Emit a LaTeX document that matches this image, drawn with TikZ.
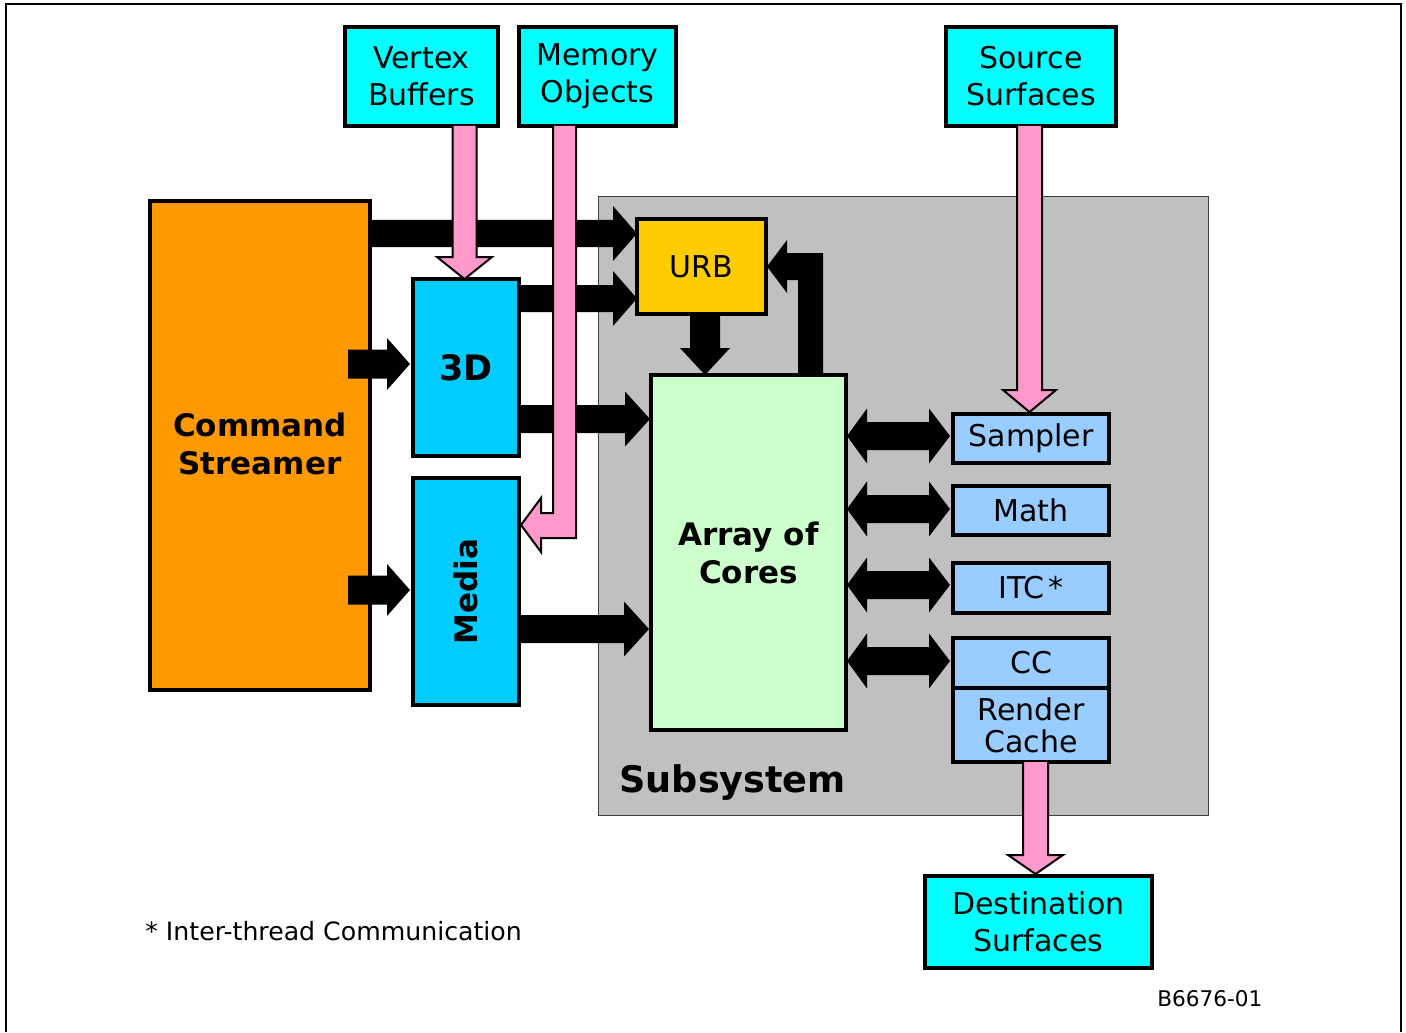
\documentclass[tikz,border=0pt]{standalone}
\usepackage{fontspec}
\setmainfont{DejaVu Sans}
\definecolor{cyanbox}{HTML}{00FFFF}
\definecolor{orangebox}{HTML}{FF9900}
\definecolor{bluebox}{HTML}{00CCFF}
\definecolor{urbbox}{HTML}{FFCC00}
\definecolor{greenbox}{HTML}{CCFFCC}
\definecolor{unitbox}{HTML}{99CCFF}
\definecolor{pinkarrow}{HTML}{FF99CC}
\definecolor{subgray}{HTML}{C0C0C0}
% horizontal block arrow to the right: x1, tip x, y, shaft half, head base x, head half
\newcommand\BArrowR[6]{%
  \fill (#1,#3-#4) -- (#5,#3-#4) -- (#5,#3-#6) -- (#2,#3) -- (#5,#3+#6) -- (#5,#3+#4) -- (#1,#3+#4) -- cycle;}
% double block arrow: left tip, right tip, y
\newcommand\BArrowLR[3]{%
  \fill (#1,#3) -- (#1+20,#3-27.5) -- (#1+20,#3-14) -- (#2-21,#3-14) -- (#2-21,#3-27.5) -- (#2,#3)
     -- (#2-21,#3+27.5) -- (#2-21,#3+14) -- (#1+20,#3+14) -- (#1+20,#3+27.5) -- cycle;}
\begin{document}
\begin{tikzpicture}[x=0.5pt,y=-0.5pt,
  box/.style={draw, line width=1.6pt, inner sep=0pt, align=center, font=\fontsize{15}{18.5}\selectfont},
  boldtext/.style={font=\bfseries\fontsize{15.5}{19}\selectfont},
  pinkarr/.style={fill=pinkarrow, draw=black, line width=1pt, line join=miter},
]
\useasboundingbox (0,0) rectangle (1406,1032);
\fill[white] (0,0) rectangle (1406,1032);
\draw[line width=1.1pt] (6,1032) -- (6,4) -- (1401,4) -- (1401,1032);

% subsystem background
\node[draw=black!75, line width=0.5pt, fill=subgray, minimum width=305pt, minimum height=309pt, inner sep=0pt] (sub) at (903,506) {};
\node[anchor=base west, font=\bfseries\fontsize{18.3}{21}\selectfont, inner sep=0pt] (subl) at (619,792) {Subsystem};

% top boxes
\node[box, fill=cyanbox, minimum width=76.5pt, minimum height=49.5pt] (vb) at (421.5,76.5) {Vertex\\Buffers};
\node[box, fill=cyanbox, minimum width=78.5pt, minimum height=49.5pt] (mo) at (597.5,76.5) {Memory\\Objects};
\node[box, fill=cyanbox, minimum width=85pt, minimum height=49.5pt] (ss) at (1031,76.5) {Source\\Surfaces};

% command streamer, 3D, media
\node[box, fill=orangebox, minimum width=110pt, minimum height=244.5pt] (cs) at (260,445.5) {};
\node[boldtext, align=center] (csl) at (260,444) {Command\\Streamer};
\node[box, fill=bluebox, minimum width=53pt, minimum height=88.5pt, font=\bfseries\fontsize{17.5}{21}\selectfont] (d3) at (466,367.5) {3D};
\node[box, fill=bluebox, minimum width=53pt, minimum height=113.5pt] (media) at (466,591.5) {};
\node[rotate=90, boldtext] (medial) at (466,591.5) {Media};

% URB and array
\node[box, fill=urbbox, minimum width=64.5pt, minimum height=47.5pt] (urb) at (701.5,266.5) {URB};
\node[box, fill=greenbox, minimum width=97.5pt, minimum height=177.5pt, boldtext] (aoc) at (748.5,552.5) {Array of\\Cores};

% units
\node[box, fill=unitbox, minimum width=78pt, minimum height=24.5pt] (sampler) at (1031,438.5) {Sampler};
\node[box, fill=unitbox, minimum width=78pt, minimum height=24.5pt] (math) at (1031,510.5) {Math};
\node[box, fill=unitbox, minimum width=78pt, minimum height=25pt] (itc) at (1031,588) {ITC\hspace{2pt}*};
\node[box, fill=unitbox, minimum width=78pt, minimum height=25pt] (cc) at (1031,663) {CC};
\node[box, fill=unitbox, minimum width=78pt, minimum height=37pt, font=\fontsize{15}{16}\selectfont] (rc) at (1031,725) {Render\\Cache};

% destination
\node[box, fill=cyanbox, minimum width=113.5pt, minimum height=46pt] (ds) at (1038.5,922) {Destination\\Surfaces};

% black arrows
\BArrowR{370}{637}{233.5}{13.5}{613}{27.5}
\BArrowR{519}{637}{298.5}{13.5}{613}{27.5}
\BArrowR{348}{410}{364}{14.5}{387}{26}
\BArrowR{348}{410}{590}{14.5}{387}{26}
\BArrowR{519}{650}{419}{14}{625}{27.5}
\BArrowR{519}{649}{629}{14}{624}{27.5}
\fill (690,314) -- (690,348) -- (680,348) -- (705,375) -- (730,348) -- (720,348) -- (720,314) -- cycle;
\fill (798,375) -- (798,280) -- (787,280) -- (787,293) -- (767,266.5) -- (787,240) -- (787,253) -- (823,253) -- (823,375) -- cycle;
\BArrowLR{847}{950}{436}
\BArrowLR{847}{950}{509}
\BArrowLR{847}{950}{585}
\BArrowLR{847}{950}{661}

% pink arrows
\draw[pinkarr] (452.5,126) -- (452.5,257) -- (437,257) -- (464.5,279) -- (492,257) -- (476.5,257) -- (476.5,126);
\draw[pinkarr] (553,126) -- (553,513) -- (541,513) -- (541,498) -- (521,525) -- (541,552) -- (541,538) -- (576,538) -- (576,126);
\draw[pinkarr] (1017,126) -- (1017,390) -- (1003,390) -- (1029.5,412) -- (1056,390) -- (1042,390) -- (1042,126);
\draw[pinkarr] (1023,762) -- (1023,855) -- (1008,855) -- (1035.5,874) -- (1063,855) -- (1048,855) -- (1048,762);

% notes
\node[anchor=base west, inner sep=0pt, font=\fontsize{12.6}{14}\selectfont] (note) at (145,940) {* Inter-thread Communication};
\node[anchor=base west, inner sep=0pt, font=\fontsize{10.8}{12}\selectfont] (fig) at (1157,1006) {B6676-01};
\end{tikzpicture}
\end{document}
